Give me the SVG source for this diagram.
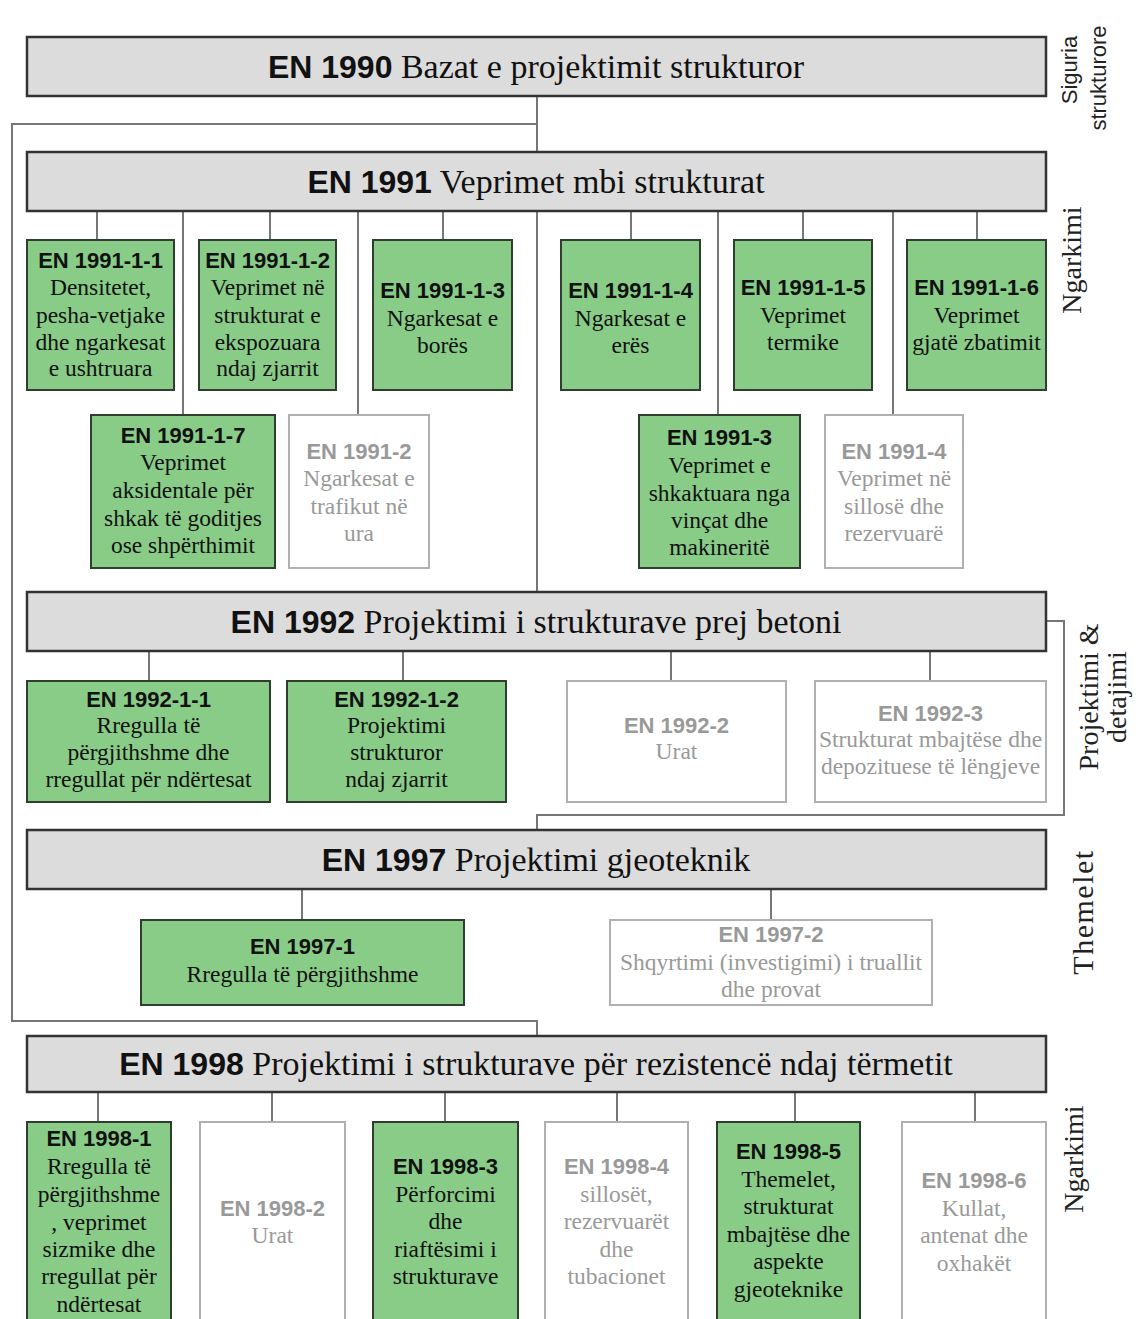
<svg xmlns="http://www.w3.org/2000/svg" width="1145" height="1319" viewBox="0 0 1145 1319">
<style>
.hdr rect{fill:#dcdcdc;stroke:#333;stroke-width:2.5}
.g rect{fill:#88cc88;stroke:#2f3f2f;stroke-width:2}
.w rect{fill:#fff;stroke:#b0b0b0;stroke-width:2}
text{text-anchor:middle}
.hb{font-family:"Liberation Sans",Arial,sans-serif;font-weight:bold;font-size:32px;fill:#111}
.hs{font-family:"Liberation Serif","Times New Roman",serif;font-size:34px;fill:#111}
.b{font-family:"Liberation Sans",Arial,sans-serif;font-weight:bold;font-size:22px}
.s{font-family:"Liberation Serif","Times New Roman",serif;font-size:23.5px}
.g text{fill:#111}
.w text{fill:#999}
.side{font-family:"Liberation Serif","Times New Roman",serif;font-size:28px;fill:#222}
.sides{font-family:"Liberation Sans",Arial,sans-serif;font-size:22px;fill:#222}
.c{fill:none;stroke:#555;stroke-width:1.6}
.c2{fill:none;stroke:#777;stroke-width:2}
</style>
<rect width="1145" height="1319" fill="#fff"/>
<g id="connectors">
<path class="c" d="M537,96V152"/>
<path class="c2" d="M537,124H12V1021H537V1036"/>
<path class="c" d="M97,211V240M270,211V240M443,211V240M631,211V240M803,211V240M977,211V240"/>
<path class="c" d="M183,211V415M358,211V415M718,211V415M893,211V415"/>
<path class="c" d="M537,211V592"/>
<path class="c" d="M149,651V681M403,651V681M671,651V681M930,651V681"/>
<path class="c2" d="M1046,621H1064V815H537V830"/>
<path class="c" d="M302,889V920M771,889V920"/>
<path class="c" d="M98,1092V1122M272,1092V1122M445,1092V1122M617,1092V1122M795,1092V1122M975,1092V1122"/>
</g>
<g id="en1990" class="hdr"><rect x="27" y="37" width="1019" height="59"/><text y="78" x="536"><tspan class="hb">EN 1990</tspan><tspan class="hs"> Bazat e projektimit strukturor</tspan></text></g>
<g id="en1991" class="hdr"><rect x="27" y="152" width="1019" height="59"/><text y="193" x="536"><tspan class="hb">EN 1991</tspan><tspan class="hs"> Veprimet mbi strukturat</tspan></text></g>
<g id="en1991-1-1" class="g"><rect x="27" y="240" width="147" height="150"/><text x="100.5" y="268" class="b">EN 1991-1-1</text><text class="s" x="100.5" y="295">Densitetet,</text><text class="s" x="100.5" y="323">pesha-vetjake</text><text class="s" x="100.5" y="350">dhe ngarkesat</text><text class="s" x="100.5" y="376">e ushtruara</text></g>
<g id="en1991-1-2" class="g"><rect x="199" y="240" width="137" height="150"/><text x="267.5" y="268" class="b">EN 1991-1-2</text><text class="s" x="267.5" y="295">Veprimet në</text><text class="s" x="267.5" y="323">strukturat e</text><text class="s" x="267.5" y="350">ekspozuara</text><text class="s" x="267.5" y="376">ndaj zjarrit</text></g>
<g id="en1991-1-3" class="g"><rect x="373" y="240" width="139" height="150"/><text x="442.5" y="298" class="b">EN 1991-1-3</text><text class="s" x="442.5" y="326">Ngarkesat e</text><text class="s" x="442.5" y="353">borës</text></g>
<g id="en1991-1-4" class="g"><rect x="561" y="240" width="139" height="150"/><text x="630.5" y="298" class="b">EN 1991-1-4</text><text class="s" x="630.5" y="326">Ngarkesat e</text><text class="s" x="630.5" y="353">erës</text></g>
<g id="en1991-1-5" class="g"><rect x="734" y="240" width="138" height="150"/><text x="803" y="295" class="b">EN 1991-1-5</text><text class="s" x="803" y="323">Veprimet</text><text class="s" x="803" y="350">termike</text></g>
<g id="en1991-1-6" class="g"><rect x="907" y="240" width="139" height="150"/><text x="976.5" y="295" class="b">EN 1991-1-6</text><text class="s" x="976.5" y="323">Veprimet</text><text class="s" x="976.5" y="350">gjatë zbatimit</text></g>
<g id="en1991-1-7" class="g"><rect x="91" y="415" width="184" height="153"/><text x="183" y="443" class="b">EN 1991-1-7</text><text class="s" x="183" y="470">Veprimet</text><text class="s" x="183" y="498">aksidentale për</text><text class="s" x="183" y="526">shkak të goditjes</text><text class="s" x="183" y="553">ose shpërthimit</text></g>
<g id="en1991-2" class="w"><rect x="289" y="415" width="140" height="153"/><text x="359" y="459" class="b">EN 1991-2</text><text class="s" x="359" y="486">Ngarkesat e</text><text class="s" x="359" y="514">trafikut në</text><text class="s" x="359" y="541">ura</text></g>
<g id="en1991-3" class="g"><rect x="639" y="415" width="161" height="153"/><text x="719.5" y="445" class="b">EN 1991-3</text><text class="s" x="719.5" y="473">Veprimet e</text><text class="s" x="719.5" y="501">shkaktuara nga</text><text class="s" x="719.5" y="528">vinçat dhe</text><text class="s" x="719.5" y="555">makineritë</text></g>
<g id="en1991-4" class="w"><rect x="825" y="415" width="138" height="153"/><text x="894" y="459" class="b">EN 1991-4</text><text class="s" x="894" y="486">Veprimet në</text><text class="s" x="894" y="514">sillosë dhe</text><text class="s" x="894" y="541">rezervuarë</text></g>
<g id="en1992" class="hdr"><rect x="27" y="592" width="1019" height="59"/><text y="633" x="536"><tspan class="hb">EN 1992</tspan><tspan class="hs"> Projektimi i strukturave prej betoni</tspan></text></g>
<g id="en1992-1-1" class="g"><rect x="27" y="681" width="243" height="121"/><text x="148.5" y="707" class="b">EN 1992-1-1</text><text class="s" x="148.5" y="733">Rregulla të</text><text class="s" x="148.5" y="760">përgjithshme dhe</text><text class="s" x="148.5" y="787">rregullat për ndërtesat</text></g>
<g id="en1992-1-2" class="g"><rect x="287" y="681" width="219" height="121"/><text x="396.5" y="707" class="b">EN 1992-1-2</text><text class="s" x="396.5" y="733">Projektimi</text><text class="s" x="396.5" y="760">strukturor</text><text class="s" x="396.5" y="787">ndaj zjarrit</text></g>
<g id="en1992-2" class="w"><rect x="567" y="681" width="219" height="121"/><text x="676.5" y="733" class="b">EN 1992-2</text><text class="s" x="676.5" y="759">Urat</text></g>
<g id="en1992-3" class="w"><rect x="815" y="681" width="231" height="121"/><text x="930.5" y="721" class="b">EN 1992-3</text><text class="s" x="930.5" y="747">Strukturat mbajtëse dhe</text><text class="s" x="930.5" y="774">depozituese të lëngjeve</text></g>
<g id="en1997" class="hdr"><rect x="27" y="830" width="1019" height="59"/><text y="871" x="536"><tspan class="hb">EN 1997</tspan><tspan class="hs"> Projektimi gjeoteknik</tspan></text></g>
<g id="en1997-1" class="g"><rect x="141" y="920" width="323" height="85"/><text x="302.5" y="954" class="b">EN 1997-1</text><text class="s" x="302.5" y="982">Rregulla të përgjithshme</text></g>
<g id="en1997-2" class="w"><rect x="610" y="920" width="322" height="85"/><text x="771" y="942" class="b">EN 1997-2</text><text class="s" x="771" y="970">Shqyrtimi (investigimi) i truallit</text><text class="s" x="771" y="997">dhe provat</text></g>
<g id="en1998" class="hdr"><rect x="27" y="1036" width="1019" height="56"/><text y="1075" x="536"><tspan class="hb">EN 1998</tspan><tspan class="hs"> Projektimi i strukturave për rezistencë ndaj tërmetit</tspan></text></g>
<g id="en1998-1" class="g"><rect x="27" y="1122" width="144" height="210"/><text x="99" y="1146" class="b">EN 1998-1</text><text class="s" x="99" y="1174">Rregulla të</text><text class="s" x="99" y="1202">përgjithshme</text><text class="s" x="99" y="1230">, veprimet</text><text class="s" x="99" y="1257">sizmike dhe</text><text class="s" x="99" y="1284">rregullat për</text><text class="s" x="99" y="1312">ndërtesat</text></g>
<g id="en1998-2" class="w"><rect x="200" y="1122" width="145" height="210"/><text x="272.5" y="1216" class="b">EN 1998-2</text><text class="s" x="272.5" y="1243">Urat</text></g>
<g id="en1998-3" class="g"><rect x="373" y="1122" width="145" height="210"/><text x="445.5" y="1174" class="b">EN 1998-3</text><text class="s" x="445.5" y="1202">Përforcimi</text><text class="s" x="445.5" y="1229">dhe</text><text class="s" x="445.5" y="1257">riaftësimi i</text><text class="s" x="445.5" y="1284">strukturave</text></g>
<g id="en1998-4" class="w"><rect x="545" y="1122" width="143" height="210"/><text x="616.5" y="1174" class="b">EN 1998-4</text><text class="s" x="616.5" y="1202">sillosët,</text><text class="s" x="616.5" y="1229">rezervuarët</text><text class="s" x="616.5" y="1257">dhe</text><text class="s" x="616.5" y="1284">tubacionet</text></g>
<g id="en1998-5" class="g"><rect x="717" y="1122" width="143" height="210"/><text x="788.5" y="1159" class="b">EN 1998-5</text><text class="s" x="788.5" y="1187">Themelet,</text><text class="s" x="788.5" y="1214">strukturat</text><text class="s" x="788.5" y="1242">mbajtëse dhe</text><text class="s" x="788.5" y="1269">aspekte</text><text class="s" x="788.5" y="1297">gjeoteknike</text></g>
<g id="en1998-6" class="w"><rect x="902" y="1122" width="144" height="210"/><text x="974" y="1188" class="b">EN 1998-6</text><text class="s" x="974" y="1216">Kullat,</text><text class="s" x="974" y="1243">antenat dhe</text><text class="s" x="974" y="1271">oxhakët</text></g>
<g id="side-labels">
<text class="sides" transform="translate(1077,70) rotate(-90)">Siguria</text>
<text class="sides" transform="translate(1106,78) rotate(-90)">strukturore</text>
<text class="side" transform="translate(1081,260) rotate(-90)">Ngarkimi</text>
<text class="side" transform="translate(1098,697) rotate(-90)">Projektimi &amp;</text>
<text class="side" transform="translate(1126,697) rotate(-90)">detajimi</text>
<text class="side" style="font-size:30px;letter-spacing:1.5px" transform="translate(1093,912) rotate(-90)">Themelet</text>
<text class="side" transform="translate(1083,1159) rotate(-90)">Ngarkimi</text>
</g>
</svg>
